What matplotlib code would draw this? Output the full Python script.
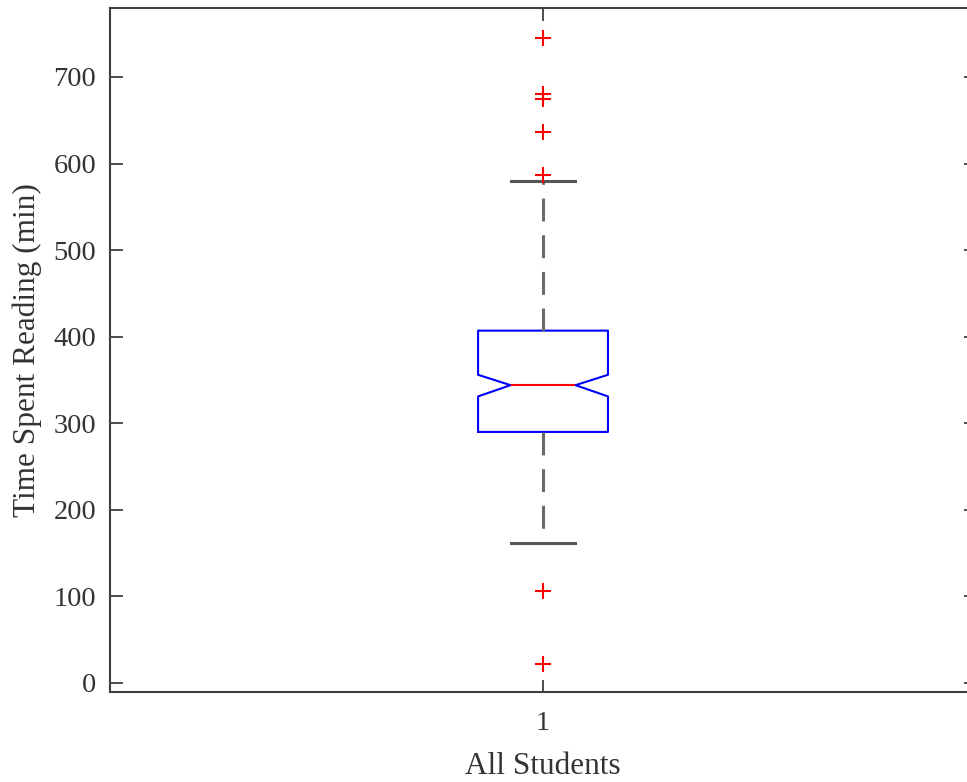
import numpy as np
import matplotlib.pyplot as plt

# summary statistics (minutes)
q1 = 290
median = 344
q3 = 407
ci_low = 331
ci_high = 356
whisker_low = 162
whisker_high = 580
outliers = [745, 680, 675, 637, 587, 106, 22]
group_labels = ['1']

plt.rcParams['font.family'] = ['Liberation Serif', 'DejaVu Serif']

fig = plt.figure(figsize=(9.67, 7.82), dpi=100)
ax = fig.add_axes([0.1138, 0.1151, 0.8955, 0.8747])

stats = [{
    'med': median, 'q1': q1, 'q3': q3,
    'cilo': ci_low, 'cihi': ci_high,
    'whislo': whisker_low, 'whishi': whisker_high,
    'fliers': np.array(outliers), 'label': group_labels[0],
}]

ax.bxp(stats, positions=[1], widths=0.15, capwidths=0.075, shownotches=True,
       boxprops=dict(color='#0000ff', linewidth=1.5),
       medianprops=dict(color='#ff0000', linewidth=1.5),
       whiskerprops=dict(color='#6a6a6a', linewidth=2.2, linestyle=(0, (7.5, 4.5))),
       capprops=dict(color='#555555', linewidth=2.2),
       flierprops=dict(marker='+', markeredgecolor='#ff0000', markersize=11,
                       markeredgewidth=1.5, linestyle='none'))

ax.set_xlim(0.5, 1.5)
ax.set_ylim(-10.4, 779.7)
ax.set_yticks(np.arange(0, 701, 100))
ax.set_xticks([1])
ax.set_xticklabels(group_labels)

ax.tick_params(direction='in', length=9, width=1.3, colors='#404040',
               labelsize=20.5, labelcolor='#333333', top=True, right=True)
ax.tick_params(axis='y', pad=10)
ax.tick_params(axis='x', pad=14)
for sp in ax.spines.values():
    sp.set_color('#404040')
    sp.set_linewidth(1.5)

ax.set_ylabel('Time Spent Reading (min)', fontsize=22.5, color='#333333', labelpad=8)
ax.set_xlabel('All Students', fontsize=22.5, color='#333333', labelpad=11)

fig.savefig('out.png', dpi=100)
